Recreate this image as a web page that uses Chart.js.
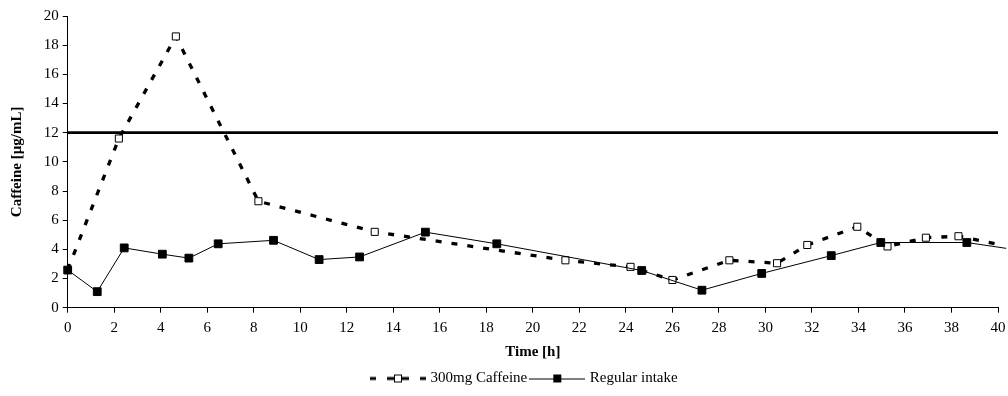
<!DOCTYPE html>
<html><head><meta charset="utf-8">
<script src="https://cdn.jsdelivr.net/npm/chart.js@4/dist/chart.umd.min.js"></script>
<style>html,body{margin:0;padding:0;background:#fff}canvas{display:block}</style>
</head><body>
<canvas id="c" width="1008" height="396"></canvas>
<script>
// ---- data ----
const caffeineTime   = [0, 2.2, 4.65, 8.2, 13.2, 21.4, 24.2, 26.0, 28.45, 30.5, 31.8, 33.95, 35.25, 36.9, 38.3, 40];
const caffeineValues = [2.6, 11.6, 18.6, 7.3, 5.2, 3.25, 2.8, 1.9, 3.25, 3.05, 4.3, 5.55, 4.2, 4.8, 4.9, 4.35];
const regularTime    = [0, 1.27, 2.43, 4.07, 5.21, 6.47, 8.85, 10.81, 12.55, 15.38, 18.45, 24.68, 27.27, 29.84, 32.83, 34.96, 38.66, 40.35];
const regularValues  = [2.58, 1.1, 4.1, 3.67, 3.4, 4.38, 4.62, 3.3, 3.48, 5.18, 4.38, 2.55, 1.2, 2.35, 3.57, 4.47, 4.47, 4.07];
const thresholdTime  = [0, 40];
const thresholdValues = [12, 12];
const xTickValues = [0, 2, 4, 6, 8, 10, 12, 14, 16, 18, 20, 22, 24, 26, 28, 30, 32, 34, 36, 38, 40];
const yTickValues = [0, 2, 4, 6, 8, 10, 12, 14, 16, 18, 20];
const seriesLabels = ['300mg Caffeine', 'Regular intake'];
const xTitle = 'Time [h]';
const yTitle = 'Caffeine [µg/mL]';

const toPts = (xs, ys) => xs.map((x, i) => ({x: x, y: ys[i]}));

Chart.defaults.font.family = '"Liberation Serif", "Times New Roman", serif';
Chart.defaults.color = '#000';

function makeSample(dashed, filled) {
  const c = document.createElement('canvas');
  c.width = 56; c.height = 12;
  const g = c.getContext('2d');
  g.strokeStyle = '#000';
  g.fillStyle = '#000';
  if (dashed) {
    [[0, 6], [17, 24], [32, 39], [50, 56]].forEach(s => g.fillRect(s[0], 4.5, s[1] - s[0], 3));
  } else {
    g.lineWidth = 1;
    g.beginPath(); g.moveTo(0, 6.5); g.lineTo(56, 6.5); g.stroke();
  }
  g.fillStyle = filled ? '#000' : '#fff';
  g.fillRect(24.5, 2.5, 7, 7);
  g.lineWidth = 1;
  g.strokeRect(24.5, 2.5, 7, 7);
  return c;
}
const samples = [makeSample(true, false), makeSample(false, true)];

const legendShift = {
  id: 'legendShift',
  afterLayout(chart) {
    const lg = chart.legend;
    if (!lg || !lg.lineWidths) return;
    const pad = lg.options.labels.padding;
    const start = (lg.left + pad + lg.right - lg.lineWidths[0]) / 2;
    const dx = 373 - start;
    lg.left += dx; lg.right += dx;
  }
};

new Chart(document.getElementById('c'), {
  type: 'line',
  data: {
    datasets: [
      {
        label: seriesLabels[0],
        data: toPts(caffeineTime, caffeineValues),
        borderColor: '#000', borderWidth: 3.3, borderDash: [6, 10],
        pointStyle: 'rect',
        pointRadius: caffeineValues.map((v, i) => i === caffeineValues.length - 1 ? 0 : 5),
        pointBackgroundColor: '#fff', pointBorderColor: '#000', pointBorderWidth: 1,
        fill: false, tension: 0, order: 1
      },
      {
        label: seriesLabels[1],
        data: toPts(regularTime, regularValues),
        borderColor: '#000', borderWidth: 1,
        pointStyle: 'rect',
        pointRadius: regularValues.map((v, i) => i === regularValues.length - 1 ? 0 : 5.5),
        pointBackgroundColor: '#000', pointBorderColor: '#000', pointBorderWidth: 1,
        fill: false, tension: 0, order: 0, clip: false
      },
      {
        label: 'threshold',
        data: toPts(thresholdTime, thresholdValues),
        borderColor: '#000', borderWidth: 2.7, pointRadius: 0,
        fill: false, order: 2
      }
    ]
  },
  options: {
    responsive: false,
    animation: false,
    devicePixelRatio: 1,
    layout: { padding: { top: 16, right: 10, bottom: 0, left: 0 } },
    plugins: {
      tooltip: { enabled: false },
      legend: {
        position: 'bottom', align: 'center',
        labels: {
          usePointStyle: true, pointStyleWidth: 50, padding: 5,
          font: { size: 15 }, color: '#000',
          filter: (item) => item.datasetIndex < 2,
          sort: (a, b) => a.datasetIndex - b.datasetIndex,
          generateLabels: (chart) => {
            const items = Chart.defaults.plugins.legend.labels.generateLabels(chart);
            items.forEach(it => { it.pointStyle = samples[it.datasetIndex] || 'line'; });
            return items;
          }
        }
      }
    },
    scales: {
      x: {
        type: 'linear', min: 0, max: 40,
        afterBuildTicks: (s) => { s.ticks = xTickValues.map(v => ({value: v})); },
        afterFit: (s) => { s.height = 58.3; s.paddingLeft = 0; s.paddingRight = 0; },
        ticks: { padding: 6, font: { size: 15 }, color: '#000', maxRotation: 0, autoSkip: false,
                 callback: (v) => String(v) },
        grid: { drawOnChartArea: false, drawTicks: true, tickLength: 5, color: '#000', lineWidth: 1 },
        border: { display: true, color: '#000', width: 1 },
        title: { display: true, text: xTitle, color: '#000', font: { size: 15, weight: 'bold' },
                 padding: { top: 0, bottom: 5 } }
      },
      y: {
        min: 0, max: 20,
        afterBuildTicks: (s) => { s.ticks = yTickValues.map(v => ({value: v})); },
        afterFit: (s) => { s.width = 67.7; s.paddingTop = 0; s.paddingBottom = 0; },
        ticks: { padding: 4, font: { size: 15 }, color: '#000', autoSkip: false,
                 callback: (v) => String(v) },
        grid: { drawOnChartArea: false, drawTicks: true, tickLength: 5, color: '#000', lineWidth: 1 },
        border: { display: true, color: '#000', width: 1 },
        title: { display: true, text: yTitle, color: '#000', font: { size: 15, weight: 'bold' },
                 padding: { top: 8.5, bottom: 0 } }
      }
    }
  },
  plugins: [legendShift]
});
</script>
</body></html>
